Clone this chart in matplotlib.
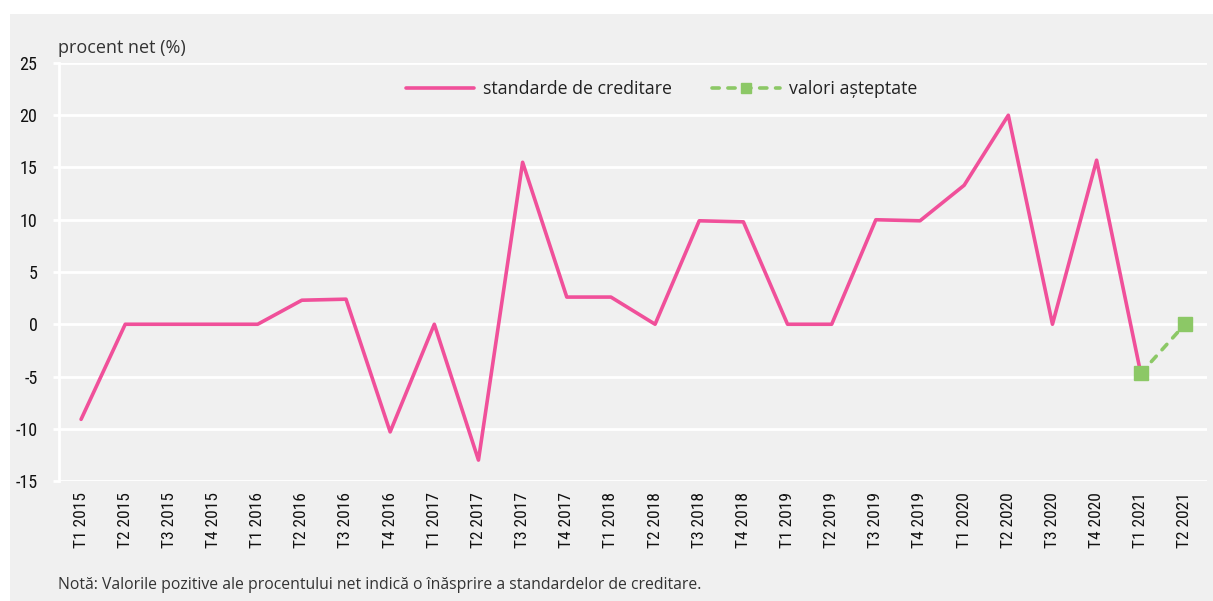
import numpy as np
import matplotlib
matplotlib.use("Agg")
import matplotlib.pyplot as plt
from matplotlib.patches import Rectangle

quarters = ["T1 2015", "T2 2015", "T3 2015", "T4 2015",
            "T1 2016", "T2 2016", "T3 2016", "T4 2016",
            "T1 2017", "T2 2017", "T3 2017", "T4 2017",
            "T1 2018", "T2 2018", "T3 2018", "T4 2018",
            "T1 2019", "T2 2019", "T3 2019", "T4 2019",
            "T1 2020", "T2 2020", "T3 2020", "T4 2020",
            "T1 2021", "T2 2021"]

standards = [-9.1, 0, 0, 0,
             0, 2.3, 2.4, -10.3,
             0, -13.0, 15.5, 2.6,
             2.6, 0, 9.9, 9.8,
             0, 0, 10.0, 9.9,
             13.3, 20.0, 0, 15.7,
             -4.7]

expected_quarters = ["T1 2021", "T2 2021"]
expected = [-4.7, 0]

pink = "#f0509a"
green = "#8cc866"
bg = "#f0f0f0"

plt.rcParams['font.family'] = ['Open Sans', 'DejaVu Sans']
plt.rcParams['axes.unicode_minus'] = False
tick_font = ['Roboto Condensed', 'Roboto', 'DejaVu Sans']

fig = plt.figure(figsize=(12.13, 6.01), dpi=100, facecolor="white")
fig.patches.append(Rectangle((10 / 1213, 0), 1, 1 - 14 / 601, transform=fig.transFigure,
                             facecolor=bg, edgecolor="none", zorder=-10))

ax = fig.add_axes([59 / 1213, 1 - 481 / 601, (1207 - 59) / 1213, (481 - 63) / 601])
ax.set_facecolor(bg)

x = np.arange(len(quarters))
xe = [quarters.index(q) for q in expected_quarters]

ax.plot(x[:len(standards)], standards, color=pink, lw=2.6, solid_capstyle="round",
        label="standarde de creditare", zorder=3)
ax.plot(xe, expected, color=green, lw=2.6, ls=(0, (2.0, 2.4)), dash_capstyle="round",
        marker="s", markersize=10, label="valori așteptate", zorder=4)

ax.set_xlim(-0.5, len(quarters) - 0.5)
ax.set_ylim(-15, 25)
ax.set_yticks(np.arange(-15, 26, 5))
ax.set_xticks(x)
ax.set_xticklabels(quarters, rotation=90, family=tick_font, fontsize=12.5)
for lab in ax.get_yticklabels():
    lab.set_family(tick_font)
    lab.set_fontsize(13)

ax.grid(axis="y", color="white", lw=2)
ax.set_axisbelow(True)
for s in ["top", "right", "bottom"]:
    ax.spines[s].set_visible(False)
ax.spines["left"].set_color("white")
ax.spines["left"].set_linewidth(2)
ax.tick_params(axis="y", length=4.5, width=2, color="white", pad=11, labelcolor="#111111")
ax.tick_params(axis="x", length=0, pad=8, labelcolor="#111111")

leg = ax.legend(loc="center", bbox_to_anchor=(0.525, 1 - 26 / 418), ncol=2, frameon=False,
                fontsize=12.8, handlelength=3.8, columnspacing=2.3, markerscale=0.65,
                handletextpad=0.5)
for t in leg.get_texts():
    t.set_color("#222222")

fig.text(58 / 1213, 1 - 48 / 601, "procent net (%)", fontsize=13, color="#333333",
         va="center", ha="left")
fig.text(58 / 1213, 1 - 585 / 601,
         "Notă: Valorile pozitive ale procentului net indică o înăsprire a standardelor de creditare.",
         fontsize=11.3, color="#333333", va="center", ha="left")

fig.savefig("out.png", dpi=100, facecolor=fig.get_facecolor())
